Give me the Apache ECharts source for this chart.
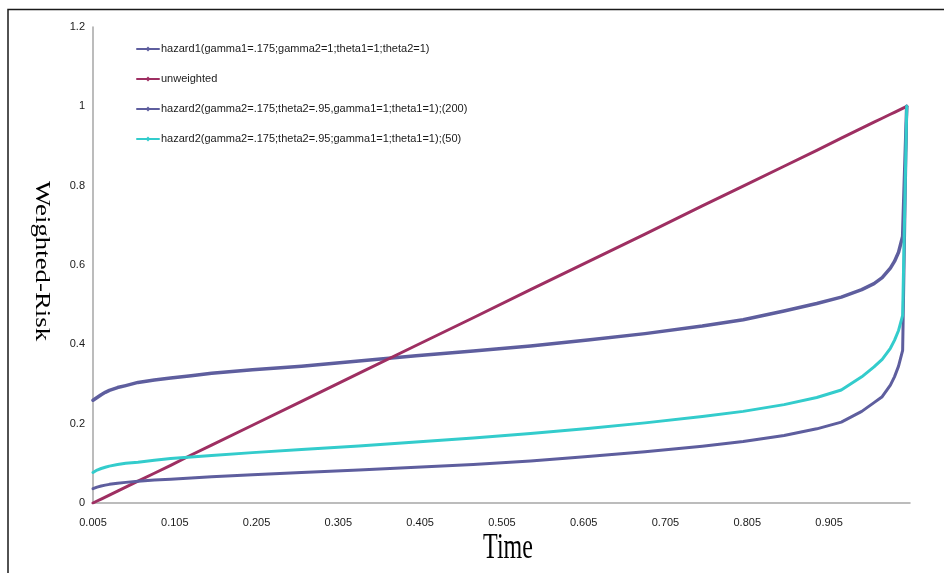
<!DOCTYPE html>
<html><head><meta charset="utf-8">
<script src="https://cdn.jsdelivr.net/npm/echarts@6/dist/echarts.min.js"></script>
<style>html,body{margin:0;padding:0;background:#fff}#c{width:944px;height:573px}</style>
</head><body><div id="c"></div>
<script>
// Time values (x) at which the curves were read
const times = [0.005, 0.01, 0.015, 0.02, 0.025, 0.035, 0.045, 0.06, 0.08, 0.1, 0.125, 0.15, 0.2, 0.26, 0.33, 0.4, 0.47, 0.54, 0.61, 0.68, 0.75, 0.8, 0.85, 0.89, 0.92, 0.945, 0.96, 0.97, 0.98, 0.985, 0.99, 0.995, 1.0];
const hazard1 = [0.259, 0.266, 0.273, 0.279, 0.284, 0.291, 0.296, 0.304, 0.310, 0.315, 0.321, 0.327, 0.336, 0.345, 0.358, 0.371, 0.383, 0.396, 0.411, 0.427, 0.446, 0.462, 0.484, 0.503, 0.519, 0.538, 0.553, 0.568, 0.592, 0.609, 0.632, 0.672, 1.0];
const unweighted = [0, 0.005, 0.010, 0.015, 0.020, 0.030, 0.040, 0.055, 0.075, 0.095, 0.121, 0.146, 0.196, 0.256, 0.327, 0.397, 0.467, 0.538, 0.608, 0.678, 0.749, 0.799, 0.849, 0.889, 0.920, 0.945, 0.960, 0.970, 0.980, 0.985, 0.990, 0.995, 1.0];
const hazard2_200 = [0.036, 0.040, 0.043, 0.045, 0.047, 0.050, 0.052, 0.055, 0.058, 0.060, 0.063, 0.066, 0.071, 0.077, 0.083, 0.090, 0.097, 0.106, 0.117, 0.129, 0.143, 0.155, 0.170, 0.187, 0.204, 0.231, 0.253, 0.268, 0.297, 0.318, 0.345, 0.385, 1.0];
const hazard2_50 = [0.077, 0.083, 0.087, 0.090, 0.093, 0.097, 0.100, 0.103, 0.108, 0.112, 0.116, 0.120, 0.127, 0.135, 0.144, 0.154, 0.164, 0.175, 0.188, 0.202, 0.218, 0.231, 0.248, 0.266, 0.285, 0.318, 0.343, 0.362, 0.390, 0.410, 0.435, 0.473, 1.0];
const seriesNames = [
  'hazard1(gamma1=.175;gamma2=1;theta1=1;theta2=1)',
  'unweighted',
  'hazard2(gamma2=.175;theta2=.95,gamma1=1;theta1=1);(200)',
  'hazard2(gamma2=.175;theta2=.95;gamma1=1;theta1=1);(50)'
];
const yTicks = ['0', '0.2', '0.4', '0.6', '0.8', '1', '1.2'];

const colors = ['#5E5E9E', '#9E2F62', '#5E5E9E', '#33CCCC'];
const values = [hazard1, unweighted, hazard2_200, hazard2_50];

const chart = echarts.init(document.getElementById('c'), null, {renderer: 'canvas'});
chart.setOption({
  animation: false,
  backgroundColor: '#fff',
  textStyle: {fontFamily: '"Liberation Sans", Arial, sans-serif'},
  grid: {left: 93, right: 34, top: 27, bottom: 70, containLabel: false},
  legend: {
    orient: 'vertical', left: 131, top: 37,
    itemWidth: 22, itemHeight: 6, itemGap: 16,
    textStyle: {fontSize: 11, color: '#1a1a1a', lineHeight: 14, padding: [0, 0, 0, -3], fontFamily: '"Liberation Sans", Arial, sans-serif'},
    data: seriesNames
  },
  xAxis: {
    type: 'value', min: 0.005, max: 1.004, interval: 0.1,
    axisLine: {lineStyle: {color: '#a6a6a6', width: 1.5}},
    axisTick: {show: false},
    splitLine: {show: false},
    axisLabel: {
      fontSize: 11, color: '#1a1a1a', margin: 14,
      showMaxLabel: false,
      formatter: v => (v > 0.95 ? '' : v.toFixed(3))
    }
  },
  yAxis: {
    type: 'value', min: 0, max: 1.2, interval: 0.2,
    axisLine: {show: true, lineStyle: {color: '#a6a6a6', width: 1.5}},
    axisTick: {show: false},
    splitLine: {show: false},
    axisLabel: {
      fontSize: 11, color: '#1a1a1a', margin: 8,
      formatter: (v) => yTicks[Math.round(v / 0.2)]
    }
  },
  series: seriesNames.map((name, i) => ({
    name: name,
    type: 'line',
    data: times.map((t, j) => [t, values[i][j]]),
    showSymbol: false,
    symbol: 'diamond',
    symbolSize: 5,
    color: colors[i],
    lineStyle: {width: i === 0 ? 3.5 : 3, color: colors[i], join: 'round', cap: 'round'},
    z: i === 3 ? 3 : 2
  })),
  graphic: [
    {type: 'rect', silent: true, shape: {x: 8, y: 9.5, width: 1000, height: 1000},
     style: {fill: 'none', stroke: '#1a1a1a', lineWidth: 1.5}},
    {type: 'text', silent: true, x: 508, y: 549, scaleY: 1.45,
     style: {text: 'Time', font: '24px "Liberation Serif", "Times New Roman", serif', fill: '#000',
             textAlign: 'center', textVerticalAlign: 'middle', align: 'center', verticalAlign: 'middle'}},
    {type: 'text', silent: true, x: 41, y: 261, rotation: -Math.PI / 2, scaleX: 1.34,
     style: {text: 'Weighted-Risk', font: '20px "Liberation Serif", "Times New Roman", serif', fill: '#000',
             textAlign: 'center', textVerticalAlign: 'middle', align: 'center', verticalAlign: 'middle'}}
  ]
});
</script>
</body></html>
